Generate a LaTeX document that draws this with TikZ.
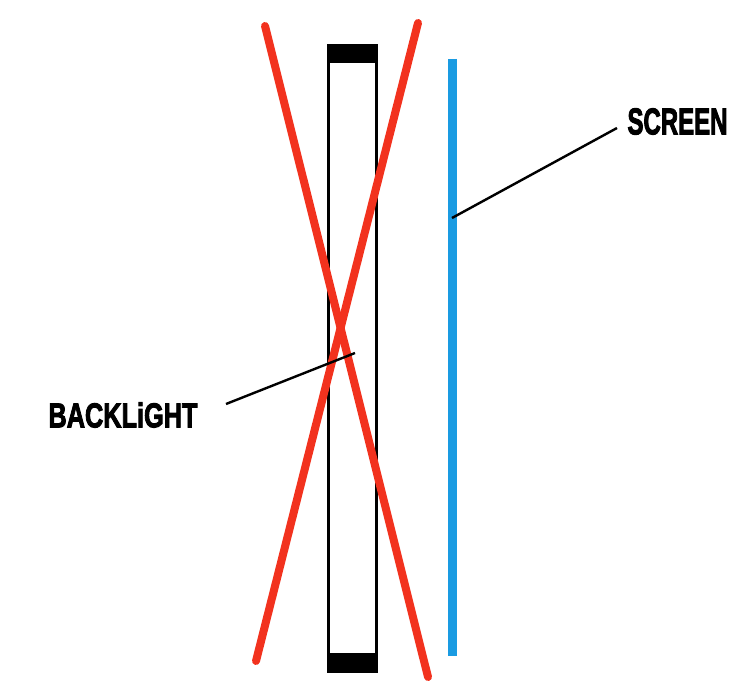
\documentclass[tikz,border=0pt]{standalone}
\usepackage{fontspec}
\setmainfont{Liberation Sans}
\newfontfamily\heavyfont[FakeBold=3]{Liberation Sans Bold}
\usepackage{graphicx}
\definecolor{xred}{HTML}{F2321E}
\definecolor{xblue}{HTML}{1A9BE2}
\tikzset{
  crossline/.style={xred, line width=8pt, line cap=round},
  leader/.style={black, line width=2.4pt},
  lbl/.style={inner sep=0pt, font=\heavyfont}
}
\begin{document}
\begin{tikzpicture}[x=1pt, y=-1pt]
\useasboundingbox (0,0) rectangle (746,700);
% backlight panel
\draw[black, line width=3pt] (328.5,45.5) rectangle (376.5,671.5);
\fill[black] (327,44) rectangle (378,63);
\fill[black] (327,653) rectangle (378,673);
% screen
\draw[xblue, line width=9pt] (452,59) -- (452,656);
% red cross
\draw[crossline] (265,26) -- (428,677);
\draw[crossline] (418,23) -- (256,661);
% labels
\node[lbl] (scr) at (677.5,121.5) {\resizebox{100pt}{26pt}{SCREEN}};
\node[lbl] (bl) at (123,415) {\resizebox{149pt}{25pt}{BACKLiGHT}};
\coordinate (scrA) at (617,128);
\coordinate (scrB) at (452,218);
\coordinate (blA) at (226,404);
\coordinate (blB) at (355,353);
\draw[leader] (scrA) -- (scrB);
\draw[leader] (blA) -- (blB);
\end{tikzpicture}
\end{document}
